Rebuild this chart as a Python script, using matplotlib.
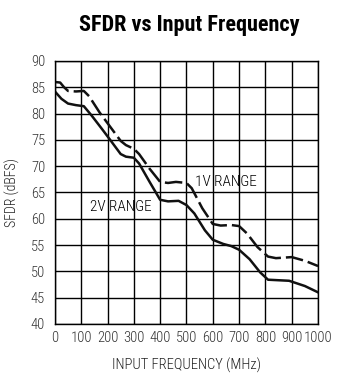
import matplotlib
matplotlib.use("Agg")
import matplotlib.pyplot as plt
import numpy as np

# frecuencias en MHz
freq_1v = [0, 20, 35, 50, 80, 110, 130, 170, 210, 250, 270, 300, 320, 360, 400, 430, 460, 500, 520, 560, 600, 630, 670, 700, 730, 770, 810, 840, 870, 900, 950, 1000]
sfdr_1v = [86.0, 85.9, 85.0, 84.3, 84.2, 84.3, 83.3, 80.2, 77.5, 74.8, 74.0, 73.3, 72.3, 69.5, 67.0, 66.8, 67.0, 66.8, 65.8, 62.0, 59.0, 58.7, 58.8, 58.6, 57.2, 54.6, 52.8, 52.5, 52.6, 52.7, 52.0, 51.0]

freq_2v = [0, 25, 50, 80, 110, 140, 180, 210, 250, 270, 300, 320, 360, 400, 430, 470, 500, 530, 570, 600, 640, 670, 700, 740, 780, 810, 850, 890, 950, 1000]
sfdr_2v = [84.2, 82.8, 81.9, 81.6, 81.4, 79.6, 77.0, 75.0, 72.3, 71.8, 71.6, 70.5, 67.0, 63.6, 63.3, 63.4, 62.6, 61.0, 57.8, 56.0, 55.2, 54.8, 54.1, 52.3, 49.8, 48.4, 48.3, 48.2, 47.2, 46.0]

xticks = list(range(0, 1001, 100))
yticks = list(range(40, 91, 5))

plt.rcParams['font.family'] = ['Roboto Condensed', 'Liberation Sans Narrow', 'Roboto', 'DejaVu Sans']

fig = plt.figure(figsize=(3.61, 3.74), dpi=100)
ax = fig.add_axes([0.152, 0.134, 0.729, 0.703])

ax.plot(freq_1v, sfdr_1v, color='#111111', lw=1.8, dashes=(7, 2))
ax.plot(freq_2v, sfdr_2v, color='#111111', lw=1.8)

ax.set_xlim(0, 1000)
ax.set_ylim(40, 90)
ax.set_xticks(xticks)
ax.set_yticks(yticks)
ax.grid(True, color='black', lw=1.0)
for s in ax.spines.values():
    s.set_linewidth(1.0)
ax.tick_params(axis='both', length=0, labelsize=10.5, colors='#333333')
ax.tick_params(axis='y', pad=7)
ax.tick_params(axis='x', pad=5)
for lab in ax.get_xticklabels() + ax.get_yticklabels():
    lab.set_fontweight('light')

ax.text(648, 67.0, '1V RANGE', fontsize=11, ha='center', va='center', fontweight='light')
ax.text(252, 62.3, '2V RANGE', fontsize=11, ha='center', va='center', fontweight='light')

ax.set_xlabel('INPUT FREQUENCY (MHz)', fontsize=10.5, labelpad=9, color='#222222', fontweight='light')
ax.set_ylabel('SFDR (dBFS)', fontsize=10, labelpad=8, color='#222222', fontweight='light')

fig.text(0.524, 0.932, 'SFDR vs Input Frequency', fontsize=16, fontweight='bold', ha='center', va='center')

fig.savefig('out.png', dpi=100)
